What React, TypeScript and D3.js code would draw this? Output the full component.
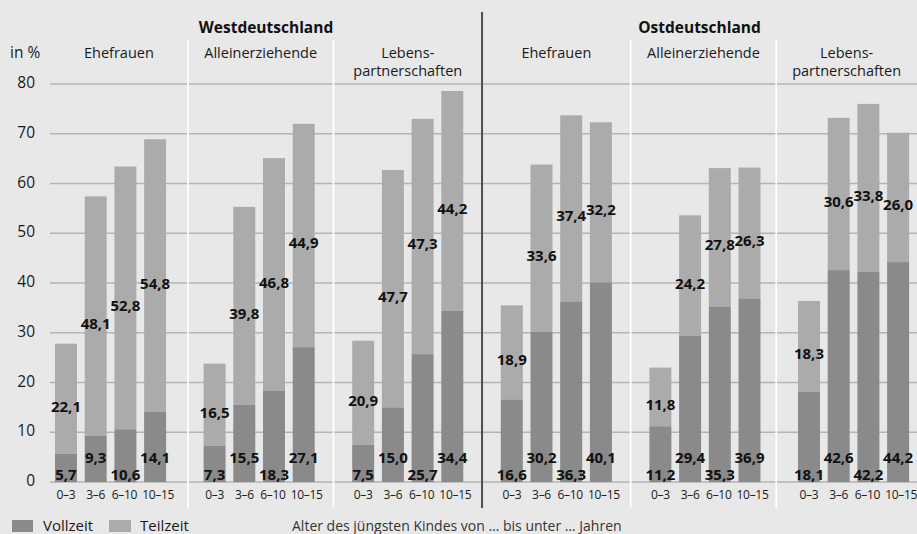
import React from "react";
import * as d3 from "d3";

// ---------- data ----------
const regions = ["Westdeutschland", "Ostdeutschland"];
const householdTypes = [["Ehefrauen"], ["Alleinerziehende"], ["Lebens-", "partnerschaften"]];
const ageGroups = ["0–3", "3–6", "6–10", "10–15"];

// Vollzeit (full-time) shares in %
const vollzeitWest = [
  [5.7, 9.3, 10.6, 14.1],
  [7.3, 15.5, 18.3, 27.1],
  [7.5, 15.0, 25.7, 34.4],
];
const vollzeitOst = [
  [16.6, 30.2, 36.3, 40.1],
  [11.2, 29.4, 35.3, 36.9],
  [18.1, 42.6, 42.2, 44.2],
];
// Teilzeit (part-time) shares in %
const teilzeitWest = [
  [22.1, 48.1, 52.8, 54.8],
  [16.5, 39.8, 46.8, 44.9],
  [20.9, 47.7, 47.3, 44.2],
];
const teilzeitOst = [
  [18.9, 33.6, 37.4, 32.2],
  [11.8, 24.2, 27.8, 26.3],
  [18.3, 30.6, 33.8, 26.0],
];
const yTicks = [0, 10, 20, 30, 40, 50, 60, 70, 80];
const legendLabels = ["Vollzeit", "Teilzeit"];
const xCaption = "Alter des jüngsten Kindes von … bis unter … Jahren";
const yUnit = "in %";

// ---------- layout ----------
const W = 917;
const H = 534;
const FONT = "'Open Sans', 'DejaVu Sans', sans-serif";
const BG = "#e8e8e8";
const DARK = "#8a8a8a";
const LIGHT = "#ababab";
const GRID = "#b4b4b4";
const plotLeft = 50;
const plotRight = W;
const tickDx = [0, 0, -1, 3];

const panels = [
  ...vollzeitWest.map((v, i) => ({ region: 0, type: i, voll: v, teil: teilzeitWest[i] })),
  ...vollzeitOst.map((v, i) => ({ region: 1, type: i, voll: v, teil: teilzeitOst[i] })),
];

export default function App() {
  const y = d3.scaleLinear().domain([0, 80]).range([482, 84]);
  const gx = d3
    .scaleBand<number>()
    .domain(panels.map((_, i) => i))
    .range([37, 37 + 148.6 * 6])
    .paddingInner(0)
    .paddingOuter(0);
  const innerStart = 18;
  const bx = d3
    .scaleBand<string>()
    .domain(ageGroups)
    .range([0, 111.1])
    .paddingInner(0.26)
    .paddingOuter(0);
  const bw = bx.bandwidth();
  const fmtLocale = d3.formatLocale({ decimal: ",", thousands: ".", grouping: [3], currency: ["", "€"] });
  const fmt = fmtLocale.format(".1f");

  const barX = (p: number, a: string) => (gx(p) as number) + innerStart + (bx(a) as number);

  // dividers between panels: midpoint between last bar of one panel and first of next
  const nudges = [3, 0, 0, 0, -3];
  const dividers = panels.slice(1).map((_, i) => {
    const end = barX(i, ageGroups[3]) + bw;
    const start = barX(i + 1, ageGroups[0]);
    return (end + start) / 2 + nudges[i];
  });
  const edges = [plotLeft, ...dividers, plotRight];
  const regionSplit = dividers[2];

  return (
    <svg
      width={W}
      height={H}
      style={{ position: "absolute", left: 0, top: 0, display: "block" }}
      fontFamily={FONT}
    >
      <rect x={0} y={0} width={W} height={H} fill={BG} />

      {/* gridlines */}
      {yTicks.map((t) => (
        <line key={"g" + t} x1={plotLeft} x2={plotRight} y1={y(t)} y2={y(t)} stroke={GRID} strokeWidth={1.4} />
      ))}
      {/* y tick labels */}
      {yTicks.map((t) => (
        <text
          key={"yt" + t}
          x={35}
          y={y(t) - 2}
          textAnchor="end"
          dominantBaseline="central"
          fontSize={15.5}
          fill="#1a1a1a"
        >
          {t}
        </text>
      ))}
      <text x={10} y={58} fontSize={15.5} fill="#1a1a1a">
        {yUnit}
      </text>

      {/* bars */}
      {panels.map((p, pi) =>
        ageGroups.map((a, ai) => {
          const v = p.voll[ai];
          const t = p.teil[ai];
          const x = barX(pi, a);
          return (
            <g key={`b${pi}-${ai}`}>
              <rect x={x} y={y(v + t)} width={bw} height={y(v) - y(v + t)} fill={LIGHT} />
              <rect x={x} y={y(v)} width={bw} height={y(0) - y(v)} fill={DARK} />
            </g>
          );
        })
      )}

      {/* dividers */}
      {dividers.map((d, i) =>
        i === 2 ? null : (
          <line key={"d" + i} x1={d} x2={d} y1={40} y2={508} stroke="#ffffff" strokeWidth={1.7} />
        )
      )}
      <line x1={regionSplit} x2={regionSplit} y1={12} y2={508} stroke="#4d4d4d" strokeWidth={2} />

      {/* value labels */}
      {panels.map((p, pi) =>
        ageGroups.map((a, ai) => {
          const v = p.voll[ai];
          const t = p.teil[ai];
          const cx = barX(pi, a) + bw / 2;
          const vy = ai % 2 === 0 ? 479.5 : 462.5;
          const ty = y(v + t / 2) + 7;
          return (
            <g key={`l${pi}-${ai}`} fontWeight="bold" fontSize={15} fill="#111" textAnchor="middle">
              <text x={cx} y={vy}>
                {fmt(v)}
              </text>
              <text x={cx} y={ty} dominantBaseline="central">
                {fmt(t)}
              </text>
            </g>
          );
        })
      )}

      {/* x tick labels */}
      {panels.map((p, pi) =>
        ageGroups.map((a, ai) => (
          <text
            key={`x${pi}-${a}`}
            x={barX(pi, a) + bw / 2 + tickDx[ai]}
            y={499}
            textAnchor="middle"
            fontSize={12}
            letterSpacing={-0.3}
            fill="#1a1a1a"
          >
            {a}
          </text>
        ))
      )}

      {/* panel headers */}
      {panels.map((p, pi) => {
        const cx = (edges[pi] + edges[pi + 1]) / 2;
        const lines = householdTypes[p.type];
        return (
          <text key={"h" + pi} x={cx} textAnchor="middle" fontSize={14.5} fill="#1a1a1a">
            {lines.map((l, li) => (
              <tspan key={li} x={cx} y={58 + li * 18}>
                {l}
              </tspan>
            ))}
          </text>
        );
      })}
      {regions.map((r, ri) => {
        const cx = ri === 0 ? (plotLeft + regionSplit) / 2 : (regionSplit + plotRight) / 2;
        return (
          <text key={r} x={cx} y={33} textAnchor="middle" fontWeight="bold" fontSize={15.5} fill="#111">
            {r}
          </text>
        );
      })}

      {/* legend */}
      <rect x={12} y={520} width={21} height={12} fill={DARK} />
      <text x={43} y={531} fontSize={15} fill="#1a1a1a">
        {legendLabels[0]}
      </text>
      <rect x={109} y={520} width={22} height={12} fill={LIGHT} />
      <text x={140} y={531} fontSize={15} fill="#1a1a1a">
        {legendLabels[1]}
      </text>
      <text x={292} y={531} fontSize={14} fill="#333">
        {xCaption}
      </text>
    </svg>
  );
}
